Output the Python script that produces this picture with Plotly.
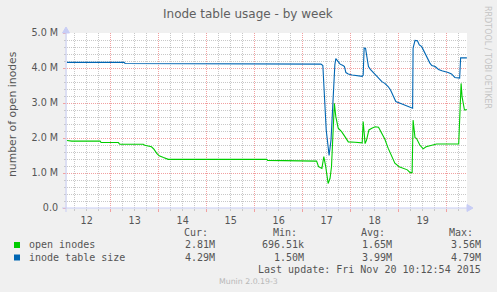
import pandas as pd
import plotly.graph_objects as go

# ---------------- data (time in fractional day-of-month, Nov 2015; values in millions) -------------
open_days = [12.09, 12.19, 12.78, 12.80, 13.16, 13.19, 13.68, 13.71, 13.85, 13.90, 13.96, 14.01,
             14.10, 14.20, 16.25, 16.27, 17.29, 17.33, 17.40, 17.44, 17.48, 17.53, 17.57, 17.60,
             17.66, 17.69, 17.74, 17.81, 17.88, 17.95, 18.09, 18.24, 18.26, 18.30, 18.33, 18.38,
             18.44, 18.51, 18.58, 18.65, 18.71, 18.78, 18.86, 18.92, 19.01, 19.10, 19.18, 19.24,
             19.28, 19.30, 19.34, 19.37, 19.44, 19.51, 19.57, 19.65, 19.79, 20.25, 20.30, 20.32,
             20.37, 20.42]
open_vals = [1.93, 1.91, 1.91, 1.87, 1.87, 1.82, 1.82, 1.79, 1.75, 1.68, 1.56, 1.49,
             1.44, 1.39, 1.39, 1.36, 1.34, 1.18, 1.13, 1.47, 1.18, 0.70, 0.85, 1.18,
             2.99, 2.61, 2.28, 2.18, 2.04, 1.89, 1.88, 1.86, 2.47, 1.84, 1.94, 2.23,
             2.28, 2.32, 2.31, 2.13, 1.97, 1.71, 1.44, 1.28, 1.18, 1.13, 1.09, 1.01,
             1.01, 2.51, 2.01, 1.99, 1.80, 1.69, 1.75, 1.78, 1.83, 1.83, 3.56, 3.18,
             2.80, 2.81]

size_days = [12.09, 13.28, 13.30, 14.15, 14.17, 17.38, 17.42, 17.49, 17.53, 17.55, 17.59, 17.64,
             17.67, 17.69, 17.74, 17.78, 17.84, 17.87, 17.90, 17.95, 18.03, 18.11, 18.24, 18.26,
             18.28, 18.31, 18.34, 18.37, 18.41, 18.51, 18.58, 18.65, 18.71, 18.78, 18.83, 18.89,
             18.94, 19.03, 19.13, 19.20, 19.27, 19.29, 19.30, 19.34, 19.39, 19.43, 19.48, 19.53,
             19.58, 19.65, 19.69, 19.76, 19.83, 19.90, 20.03, 20.10, 20.17, 20.25, 20.27, 20.29,
             20.32, 20.37, 20.42]
size_vals = [4.16, 4.16, 4.13, 4.13, 4.11, 4.11, 4.07, 2.23, 1.75, 1.50, 1.94, 3.37,
             4.09, 4.27, 4.19, 4.11, 4.07, 4.04, 3.87, 3.83, 3.80, 3.79, 3.76, 3.80,
             4.57, 4.56, 4.31, 4.04, 3.96, 3.82, 3.72, 3.61, 3.56, 3.47, 3.37, 3.18,
             3.04, 2.99, 2.94, 2.89, 2.85, 2.85, 4.57, 4.79, 4.78, 4.66, 4.61, 4.47,
             4.32, 4.14, 4.07, 4.04, 3.96, 3.92, 3.87, 3.83, 3.73, 3.71, 3.71, 4.29,
             4.29, 4.27, 4.29]

x_range_days = [12.09, 20.423]
y_tick_vals = [0, 1, 2, 3, 4, 5]
y_tick_labels = ["0.0", "1.0 M", "2.0 M", "3.0 M", "4.0 M", "5.0 M"]

series_names = ["open inodes", "inode table size"]
series_colors = ["#00CC00", "#0066B3"]
stat_headers = ["Cur:", "Min:", "Avg:", "Max:"]
stat_values = [["2.81M", "696.51k", "1.65M", "3.56M"],
               ["4.29M", "1.50M", "3.99M", "4.79M"]]
title_text = "Inode table usage - by week"
y_title = "number of open inodes"
last_update = "Last update: Fri Nov 20 10:12:54 2015"
version_text = "Munin 2.0.19-3"
side_text = "RRDTOOL / TOBI OETIKER"

# ---------------- convert day-of-month to timestamps -------------
BASE = pd.Timestamp("2015-11-01")


def to_dt(days):
    return [BASE + pd.Timedelta(days=d - 1) for d in days]


# ---------------- layout helpers (pixel -> paper) -------------
W, H = 497, 292
L, R, T, B = 67, 30, 33, 84
PW, PH = W - L - R, H - T - B


def px(x):
    return (x - L) / PW


def py(y):
    return (H - B - y) / PH


GRAY = "#c8c8c8"
RED = "#f2a0a0"
AXIS = "#c8cdf5"
TXT = "#555555"
SANS = "DejaVu Sans"
MONO = "DejaVu Sans Mono"
DAY_MS = 86400000

fig = go.Figure()
fig.add_trace(go.Scatter(x=to_dt(open_days), y=open_vals, mode="lines",
                         line=dict(color=series_colors[0], width=1.1), hoverinfo="skip"))
fig.add_trace(go.Scatter(x=to_dt(size_days), y=size_vals, mode="lines",
                         line=dict(color=series_colors[1], width=1.1), hoverinfo="skip"))

fig.update_layout(
    width=W, height=H,
    margin=dict(l=L, r=R, t=T, b=B),
    paper_bgcolor="#f0f0f0", plot_bgcolor="#ffffff",
    showlegend=False,
    xaxis=dict(type="date", range=to_dt(x_range_days), dtick=DAY_MS,
               tick0="2015-11-01", tickformat="%d", ticklabelmode="period",
               showgrid=True, gridcolor=RED, griddash="1px,1px", gridwidth=1,
               ticks="outside", ticklen=3, tickcolor=RED,
               tickfont=dict(family=SANS, size=9.6, color=TXT),
               zeroline=False, showline=False, layer="below traces",
               minor=dict(dtick=DAY_MS / 4, tick0="2015-11-01", showgrid=True,
                          gridcolor=GRAY, griddash="1px,1px", gridwidth=1,
                          ticks="outside", ticklen=2, tickcolor=GRAY)),
    yaxis=dict(range=[0, 5.0], tickmode="array", tickvals=y_tick_vals, ticktext=y_tick_labels,
               showgrid=True, gridcolor=RED, griddash="1px,1px", gridwidth=1,
               ticks="outside", ticklen=3, tickcolor=RED, ticklabelstandoff=3,
               tickfont=dict(family=SANS, size=9.6, color=TXT),
               zeroline=False, showline=False,
               minor=dict(dtick=0.2, tick0=0, showgrid=True, gridcolor=GRAY,
                          griddash="1px,1px", gridwidth=1, ticks="outside", ticklen=2,
                          tickcolor=GRAY)),
)

shapes = [
    # axis lines with arrows
    dict(type="line", xref="paper", yref="paper", x0=px(62), x1=px(468), y0=0, y1=0,
         line=dict(color=AXIS, width=1)),
    dict(type="path", xref="paper", yref="paper",
         path=f"M {px(467)},{py(211.5)} L {px(473)},{py(208)} L {px(467)},{py(204.5)} Z",
         fillcolor=AXIS, line=dict(color=AXIS, width=1)),
    dict(type="line", xref="paper", yref="paper", x0=px(66), x1=px(66), y0=py(212), y1=py(32),
         line=dict(color=AXIS, width=1)),
    dict(type="path", xref="paper", yref="paper",
         path=f"M {px(62.5)},{py(33)} L {px(66)},{py(27)} L {px(69.5)},{py(33)} Z",
         fillcolor=AXIS, line=dict(color=AXIS, width=1)),
]
# legend colour boxes
for i, c in enumerate(series_colors):
    ytop = 242 + i * 12.5
    shapes.append(dict(type="rect", xref="paper", yref="paper",
                       x0=px(14), x1=px(20), y0=py(ytop + 6), y1=py(ytop),
                       fillcolor=c, line=dict(color=c, width=0)))
fig.update_layout(shapes=shapes)

ann = []


def text(x, y, s, size=10, family=MONO, color=TXT, xanchor="left", angle=0):
    ann.append(dict(x=px(x), y=py(y), xref="paper", yref="paper", text=s, showarrow=False,
                    xanchor=xanchor, yanchor="middle", textangle=angle,
                    font=dict(family=family, size=size, color=color)))


text(248, 14, title_text, size=12, family=SANS, color="#606060", xanchor="center")
text(12, 114, y_title, size=10.8, family=SANS, color=TXT, xanchor="center", angle=-90)
text(488, 57, side_text, size=8, family=SANS, color="#c4c4c4", xanchor="center", angle=90)

header_left = [181.7, 270.7, 359, 447.3]
value_right = [217.3, 306, 394, 482.7]
for j, h in enumerate(stat_headers):
    text(header_left[j], 232.5, h)
for i, name in enumerate(series_names):
    yy = 244.5 + i * 12.5
    text(26.5, yy, name)
    for j, v in enumerate(stat_values[i]):
        text(value_right[j], yy, v, xanchor="right")
text(482.7, 269.5, last_update, xanchor="right")
text(248.5, 281.5, version_text, size=7.8, family=SANS, color="#b8b8b8", xanchor="center")

fig.update_layout(annotations=ann)
fig.write_html("out.html", config={"displayModeBar": False})
